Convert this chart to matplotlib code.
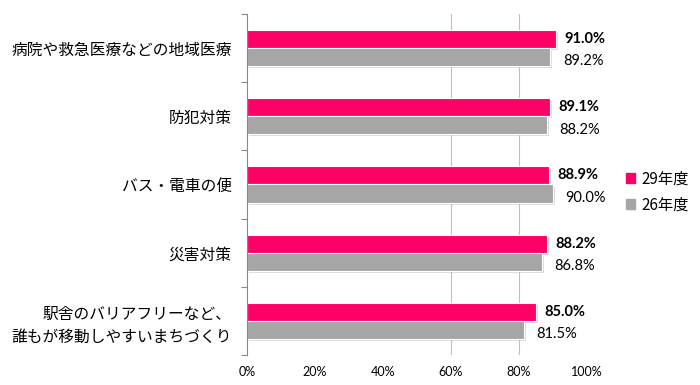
import matplotlib
matplotlib.use("Agg")
import matplotlib.pyplot as plt
import matplotlib.patheffects as pe
from matplotlib.patches import Patch
import numpy as np

plt.rcParams['font.family'] = ['Noto Sans CJK JP', 'DejaVu Sans']

categories = ["病院や救急医療などの地域医療", "防犯対策", "バス・電車の便", "災害対策",
              "駅舎のバリアフリーなど、\n誰もが移動しやすいまちづくり"]
series_names = ["29年度", "26年度"]
values_29 = [91.0, 89.1, 88.9, 88.2, 85.0]
values_26 = [89.2, 88.2, 90.0, 86.8, 81.5]
xticks = [0, 20, 40, 60, 80, 100]
xticklabels = ["0%", "20%", "40%", "60%", "80%", "100%"]

pink = "#FF0066"
gray = "#A6A6A6"

fig = plt.figure(figsize=(7, 3.85), dpi=100)
ax = fig.add_axes([247/700, 1-355/385, (587-247)/700, (355-14)/385])

n = len(categories)
y = np.arange(n)
h = 0.265
shadow = [pe.SimplePatchShadow(offset=(1.5, -1.5), shadow_rgbFace="#BBBBBB", alpha=0.5), pe.Normal()]
b1 = ax.barh(y - h/2, values_29, height=h, color=pink, edgecolor="white", linewidth=0.8)
b2 = ax.barh(y + h/2, values_26, height=h, color=gray, edgecolor="white", linewidth=0.8)
for b in list(b1) + list(b2):
    b.set_path_effects(shadow)

for i in range(n):
    ax.annotate(f"{values_29[i]:.1f}%", (values_29[i], y[i] - h/2), xytext=(6, 0),
                textcoords="offset points", va="center", ha="left", fontsize=10.5,
                fontweight="bold", family=["Lato", "DejaVu Sans"])
    ax.annotate(f"{values_26[i]:.1f}%", (values_26[i], y[i] + h/2), xytext=(9, -3),
                textcoords="offset points", va="center", ha="left", fontsize=10.5,
                family=["Lato", "DejaVu Sans"])

ax.set_xlim(0, 100)
ax.set_ylim(n - 0.5, -0.5)
for gx in [60, 80]:
    ax.axvline(gx, color="#BFBFBF", lw=0.8, zorder=0)

ax.set_xticks(xticks)
ax.set_xticklabels(xticklabels, fontsize=9, family=["Lato", "DejaVu Sans"])
ax.tick_params(axis="x", length=0, pad=8)
ax.set_yticks(y)
ax.set_yticklabels(categories, fontsize=11.3, linespacing=1.45)
ax.tick_params(axis="y", which="major", length=0, pad=11)
ax.set_yticks(np.arange(-0.5, n, 1), minor=True)
ax.tick_params(axis="y", which="minor", length=4, color="#888888", width=0.8)

for s in ["top", "right", "bottom"]:
    ax.spines[s].set_visible(False)
ax.spines["left"].set_color("#888888")
ax.spines["left"].set_linewidth(0.8)

handles = [Patch(color=pink), Patch(color=gray)]
fig.legend(handles, series_names, loc="center left", bbox_to_anchor=(612/700, 193/385),
           frameon=False, fontsize=11, handlelength=0.6, handleheight=0.6,
           handletextpad=0.4, labelspacing=0.6)

fig.savefig("out.png", dpi=100)
